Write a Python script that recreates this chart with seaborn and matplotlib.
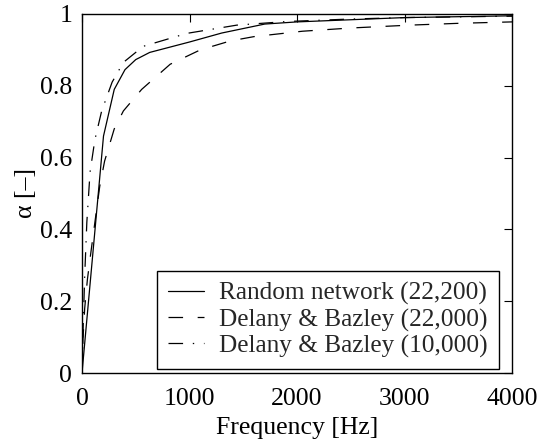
import matplotlib
matplotlib.use("Agg")
import matplotlib.pyplot as plt
import seaborn as sns

# Absorption coefficient vs. frequency
freq_random = [0, 200, 300, 400, 500, 630, 1000, 1300, 1700, 2000, 3000, 4000]
alpha_random = [0.0, 0.66, 0.79, 0.845, 0.873, 0.893, 0.922, 0.947, 0.972, 0.978, 0.99, 0.995]

freq_db22 = [0, 10, 25, 50, 80, 120, 165, 210, 300, 385, 555, 820, 1100, 1380,
             1600, 2050, 2500, 3050, 3500, 4000]
alpha_db22 = [0.0, 0.10, 0.18, 0.26, 0.33, 0.42, 0.52, 0.59, 0.68, 0.73, 0.79, 0.86,
              0.90, 0.925, 0.937, 0.952, 0.961, 0.969, 0.974, 0.978]

freq_db10 = [0, 10, 25, 45, 75, 120, 183, 280, 384, 570, 975, 1440, 1900, 2500,
             3000, 4000]
alpha_db10 = [0.0, 0.12, 0.27, 0.42, 0.56, 0.65, 0.73, 0.81, 0.865, 0.91, 0.946,
              0.969, 0.979, 0.986, 0.99, 0.994]

labels = ["Random network (22,200)", "Delany & Bazley (22,000)", "Delany & Bazley (10,000)"]

sns.set_theme(style="white")
plt.rcParams["font.family"] = ["Liberation Serif", "DejaVu Serif"]
plt.rcParams["lines.scale_dashes"] = False

fs = 18.5
fig = plt.figure(figsize=(5.44, 4.41), dpi=100)
ax = fig.add_axes([82 / 544, 68 / 441, 430 / 544, 359 / 441])

lw = 0.9
sns.lineplot(x=freq_random, y=alpha_random, ax=ax, color="black", linewidth=lw,
             linestyle="-", label=labels[0])
sns.lineplot(x=freq_db22, y=alpha_db22, ax=ax, color="black", linewidth=lw,
             linestyle=(0, (10.5, 10.5)), label=labels[1])
sns.lineplot(x=freq_db10, y=alpha_db10, ax=ax, color="black", linewidth=lw,
             linestyle=(0, (10.5, 7, 1, 7)), label=labels[2])

ax.set_xlim(0, 4000)
ax.set_ylim(0, 1)
ax.set_xticks([0, 1000, 2000, 3000, 4000])
ax.set_yticks([0, 0.2, 0.4, 0.6, 0.8, 1])
ax.set_yticklabels(["0", "0.2", "0.4", "0.6", "0.8", "1"])
ax.tick_params(direction="in", length=6, width=0.8, top=True, right=True,
               labelsize=fs, colors="black")
ax.tick_params(axis="x", pad=11)
ax.tick_params(axis="y", pad=7)
for s in ax.spines.values():
    s.set_visible(True)
    s.set_color("black")
    s.set_linewidth(1.0)

ax.set_xlabel("Frequency [Hz]", fontsize=fs, color="black", labelpad=5)
ax.set_ylabel("α [–]", fontsize=fs, color="black", labelpad=2)

leg = ax.legend(loc="lower right", bbox_to_anchor=(0.970, 0.011), borderaxespad=0,
                fontsize=18.2, frameon=True, fancybox=False, framealpha=1,
                edgecolor="black", handlelength=1.42, handletextpad=0.6,
                labelspacing=0.12, borderpad=0.45)
leg.get_frame().set_linewidth(1.0)

fig.savefig("out.png", dpi=100)
